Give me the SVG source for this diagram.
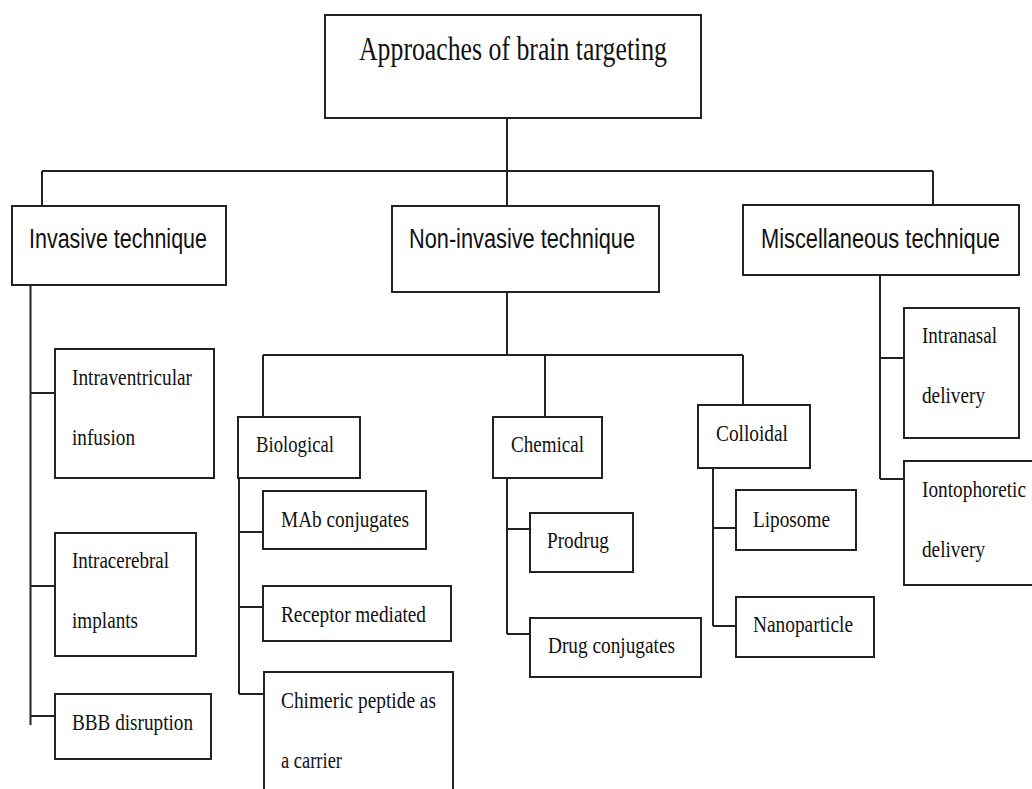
<svg xmlns="http://www.w3.org/2000/svg" width="1032" height="789" viewBox="0 0 1032 789">
<style>
.box{fill:#fff;stroke:#222;stroke-width:2}
.ln{fill:none;stroke:#222;stroke-width:2}
.s{font-family:"Liberation Serif","Times New Roman",serif;font-size:23px;fill:#111}
.t{font-family:"Liberation Serif","Times New Roman",serif;font-size:34px;fill:#111}
.h{font-family:"Liberation Sans",Arial,sans-serif;font-size:27px;fill:#111}
</style>
<rect width="1032" height="789" fill="#fff"/>
<g id="connectors">
<path class="ln" d="M507 118V206M42 171H933M42 171V206M933 171V205"/>
<path class="ln" d="M30.5 285V725M30.5 393H55M30.5 586H55M30.5 716H55"/>
<path class="ln" d="M507 292V355M263 355H743M263 355V417M545 355V417M743 355V405"/>
<path class="ln" d="M239 478V694M239 532H263M239 607H263M239 694H264"/>
<path class="ln" d="M507 478V634M507 529H530M507 634H530"/>
<path class="ln" d="M713 468V626M713 528H736M713 626H736"/>
<path class="ln" d="M880 275V479M880 358H904M880 479H904"/>
</g>
<g id="root"><rect class="box" x="325" y="15" width="376" height="103"/><text class="t" x="359" y="60" textLength="308" lengthAdjust="spacingAndGlyphs">Approaches of brain targeting</text></g>
<g id="invasive"><rect class="box" x="12" y="206" width="214" height="79"/><text class="h" x="29" y="248" textLength="178" lengthAdjust="spacingAndGlyphs">Invasive technique</text></g>
<g id="noninvasive"><rect class="box" x="392" y="206" width="267" height="86"/><text class="h" x="409" y="248" textLength="226" lengthAdjust="spacingAndGlyphs">Non-invasive technique</text></g>
<g id="misc"><rect class="box" x="743" y="205" width="276" height="70"/><text class="h" x="761" y="248" textLength="239" lengthAdjust="spacingAndGlyphs">Miscellaneous technique</text></g>
<g id="intraventricular"><rect class="box" x="55" y="349" width="159" height="129"/><text class="s" x="72" y="385" textLength="120" lengthAdjust="spacingAndGlyphs">Intraventricular</text><text class="s" x="72" y="445" textLength="63" lengthAdjust="spacingAndGlyphs">infusion</text></g>
<g id="intracerebral"><rect class="box" x="55" y="533" width="141" height="123"/><text class="s" x="72" y="568" textLength="97" lengthAdjust="spacingAndGlyphs">Intracerebral</text><text class="s" x="72" y="628" textLength="66" lengthAdjust="spacingAndGlyphs">implants</text></g>
<g id="bbb"><rect class="box" x="55" y="694" width="156" height="65"/><text class="s" x="72" y="730" textLength="121" lengthAdjust="spacingAndGlyphs">BBB disruption</text></g>
<g id="biological"><rect class="box" x="238" y="417" width="122" height="61"/><text class="s" x="256" y="452" textLength="78" lengthAdjust="spacingAndGlyphs">Biological</text></g>
<g id="chemical"><rect class="box" x="493" y="417" width="109" height="61"/><text class="s" x="511" y="452" textLength="73" lengthAdjust="spacingAndGlyphs">Chemical</text></g>
<g id="colloidal"><rect class="box" x="698" y="405" width="112" height="63"/><text class="s" x="716" y="441" textLength="72" lengthAdjust="spacingAndGlyphs">Colloidal</text></g>
<g id="mab"><rect class="box" x="263" y="491" width="163" height="58"/><text class="s" x="281" y="527" textLength="128" lengthAdjust="spacingAndGlyphs">MAb conjugates</text></g>
<g id="receptor"><rect class="box" x="263" y="586" width="188" height="55"/><text class="s" x="281" y="622" textLength="145" lengthAdjust="spacingAndGlyphs">Receptor mediated</text></g>
<g id="chimeric"><rect class="box" x="264" y="672" width="189" height="130"/><text class="s" x="281" y="708" textLength="155" lengthAdjust="spacingAndGlyphs">Chimeric peptide as</text><text class="s" x="281" y="768" textLength="61" lengthAdjust="spacingAndGlyphs">a carrier</text></g>
<g id="prodrug"><rect class="box" x="530" y="513" width="103" height="59"/><text class="s" x="547" y="548" textLength="62" lengthAdjust="spacingAndGlyphs">Prodrug</text></g>
<g id="drugconj"><rect class="box" x="530" y="618" width="171" height="59"/><text class="s" x="548" y="653" textLength="127" lengthAdjust="spacingAndGlyphs">Drug conjugates</text></g>
<g id="liposome"><rect class="box" x="736" y="490" width="120" height="60"/><text class="s" x="753" y="527" textLength="77" lengthAdjust="spacingAndGlyphs">Liposome</text></g>
<g id="nanoparticle"><rect class="box" x="736" y="597" width="138" height="60"/><text class="s" x="753" y="632" textLength="100" lengthAdjust="spacingAndGlyphs">Nanoparticle</text></g>
<g id="intranasal"><rect class="box" x="904" y="308" width="115" height="130"/><text class="s" x="922" y="343" textLength="75" lengthAdjust="spacingAndGlyphs">Intranasal</text><text class="s" x="922" y="403" textLength="63" lengthAdjust="spacingAndGlyphs">delivery</text></g>
<g id="iontophoretic"><rect class="box" x="904" y="461" width="140" height="124"/><text class="s" x="922" y="497" textLength="104" lengthAdjust="spacingAndGlyphs">Iontophoretic</text><text class="s" x="922" y="557" textLength="63" lengthAdjust="spacingAndGlyphs">delivery</text></g>
</svg>
